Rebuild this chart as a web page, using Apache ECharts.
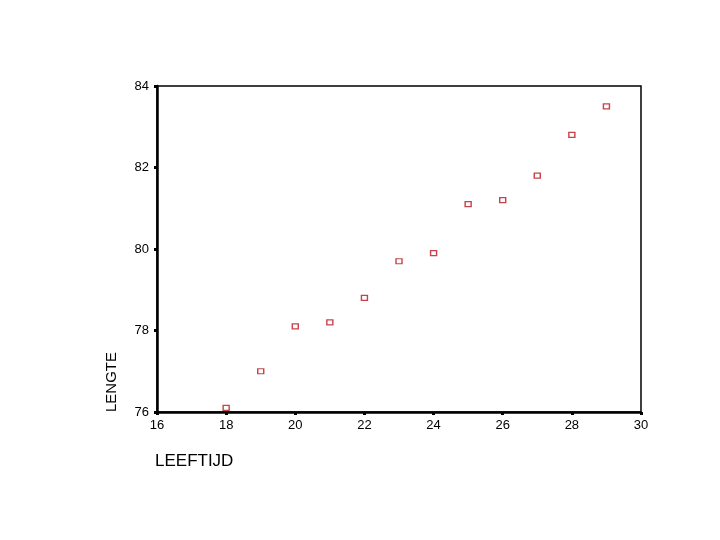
<!DOCTYPE html>
<html><head><meta charset="utf-8">
<script src="https://cdn.jsdelivr.net/npm/echarts@6/dist/echarts.min.js"></script>
<style>html,body{margin:0;padding:0;background:#fff}#c{width:720px;height:540px}</style>
</head><body><div id="c"></div>
<script>
const leeftijd = [18, 19, 20, 21, 22, 23, 24, 25, 26, 27, 28, 29];
const lengte = [76.1, 77.0, 78.1, 78.2, 78.8, 79.7, 79.9, 81.1, 81.2, 81.8, 82.8, 83.5];
const xTicks = [16, 18, 20, 22, 24, 26, 28, 30];
const yTicks = [76, 78, 80, 82, 84];
const xTitle = 'LEEFTIJD';
const yTitle = 'LENGTE';

const chart = echarts.init(document.getElementById('c'));
const font = 'Liberation Sans, Arial, sans-serif';
chart.setOption({
  animation: false,
  backgroundColor: '#fff',
  grid: { left: 157, right: 79, top: 86, bottom: 128, show: true, borderColor: '#000', borderWidth: 1.5, backgroundColor: 'transparent' },
  xAxis: {
    type: 'value', min: xTicks[0], max: xTicks[xTicks.length - 1], interval: 2,
    axisLine: { show: true, lineStyle: { color: '#000', width: 2.5 } },
    axisTick: { show: true, length: 3, lineStyle: { color: '#000', width: 3 } },
    axisLabel: { color: '#000', fontSize: 13, fontFamily: font, margin: 7 },
    splitLine: { show: false }
  },
  yAxis: {
    type: 'value', min: yTicks[0], max: yTicks[yTicks.length - 1], interval: 2,
    axisLine: { show: true, lineStyle: { color: '#000', width: 2.5 } },
    axisTick: { show: true, length: 3, lineStyle: { color: '#000', width: 3 } },
    axisLabel: { color: '#000', fontSize: 13, fontFamily: font, margin: 8 },
    splitLine: { show: false }
  },
  graphic: [
    { type: 'text', left: 155, top: 453, style: { text: xTitle, fontSize: 17, fontFamily: font, fill: '#000' } },
    { type: 'text', rotation: Math.PI / 2, x: 104, y: 412, style: { text: yTitle, fontSize: 15, fontFamily: font, fill: '#000', textAlign: 'left', textVerticalAlign: 'top' } }
  ],
  series: [{
    type: 'scatter',
    data: leeftijd.map((x, i) => [x, lengte[i]]),
    symbol: 'rect', symbolSize: [6, 5],
    itemStyle: { color: '#fff', borderColor: '#b8141e', borderWidth: 1.3 }
  }]
});
</script></body></html>
